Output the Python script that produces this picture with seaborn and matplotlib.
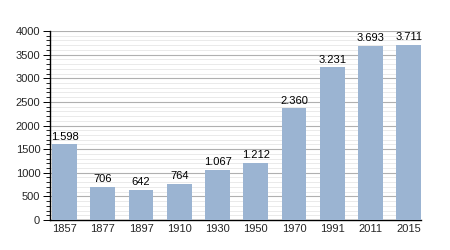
import matplotlib
matplotlib.use("Agg")
import matplotlib.pyplot as plt
import seaborn as sns
import pandas as pd
from matplotlib.ticker import MultipleLocator

years = ["1857", "1877", "1897", "1910", "1930", "1950", "1970", "1991", "2011", "2015"]
population = [1598, 706, 642, 764, 1067, 1212, 2360, 3231, 3693, 3711]
labels = ["1.598", "706", "642", "764", "1.067", "1.212", "2.360", "3.231", "3.693", "3.711"]

sns.set_theme(style="white")
plt.rcParams['font.family'] = ['Liberation Sans', 'DejaVu Sans']

df = pd.DataFrame({"year": years, "pop": population})
fig = plt.figure(figsize=(4.5, 2.5), dpi=100)
ax = fig.add_axes([0.111, 0.12, 0.825, 0.756])
sns.barplot(data=df, x="year", y="pop", color="#9bb4d2", saturation=1, width=0.65,
            linewidth=0, edgecolor="none", ax=ax, zorder=3)

ax.set_ylim(0, 4000)
ax.set_xlim(-0.38, 9.325)
ax.yaxis.set_major_locator(MultipleLocator(500))
ax.yaxis.set_minor_locator(MultipleLocator(100))
ax.grid(which="major", axis="y", color="#b0b0b0", linewidth=0.8, zorder=0)
ax.grid(which="minor", axis="y", color="#e6e6e6", linewidth=0.6, zorder=0)
ax.set_axisbelow(True)
for s in ["top", "right"]:
    ax.spines[s].set_visible(False)
for s in ["left", "bottom"]:
    ax.spines[s].set_color("black")
    ax.spines[s].set_linewidth(1.0)
ax.tick_params(axis="y", which="major", length=5, width=0.7, color="black", left=True, labelsize=8, pad=2)
ax.tick_params(axis="y", which="minor", length=3, width=0.6, color="black", left=True)
ax.tick_params(axis="x", length=0, labelsize=8, pad=3)
ax.set_xlabel("")
ax.set_ylabel("")

for i, (v, t) in enumerate(zip(population, labels)):
    ax.text(i, v + 60, t, ha="center", va="bottom", fontsize=8, color="black")

fig.savefig("out.png", dpi=100)
